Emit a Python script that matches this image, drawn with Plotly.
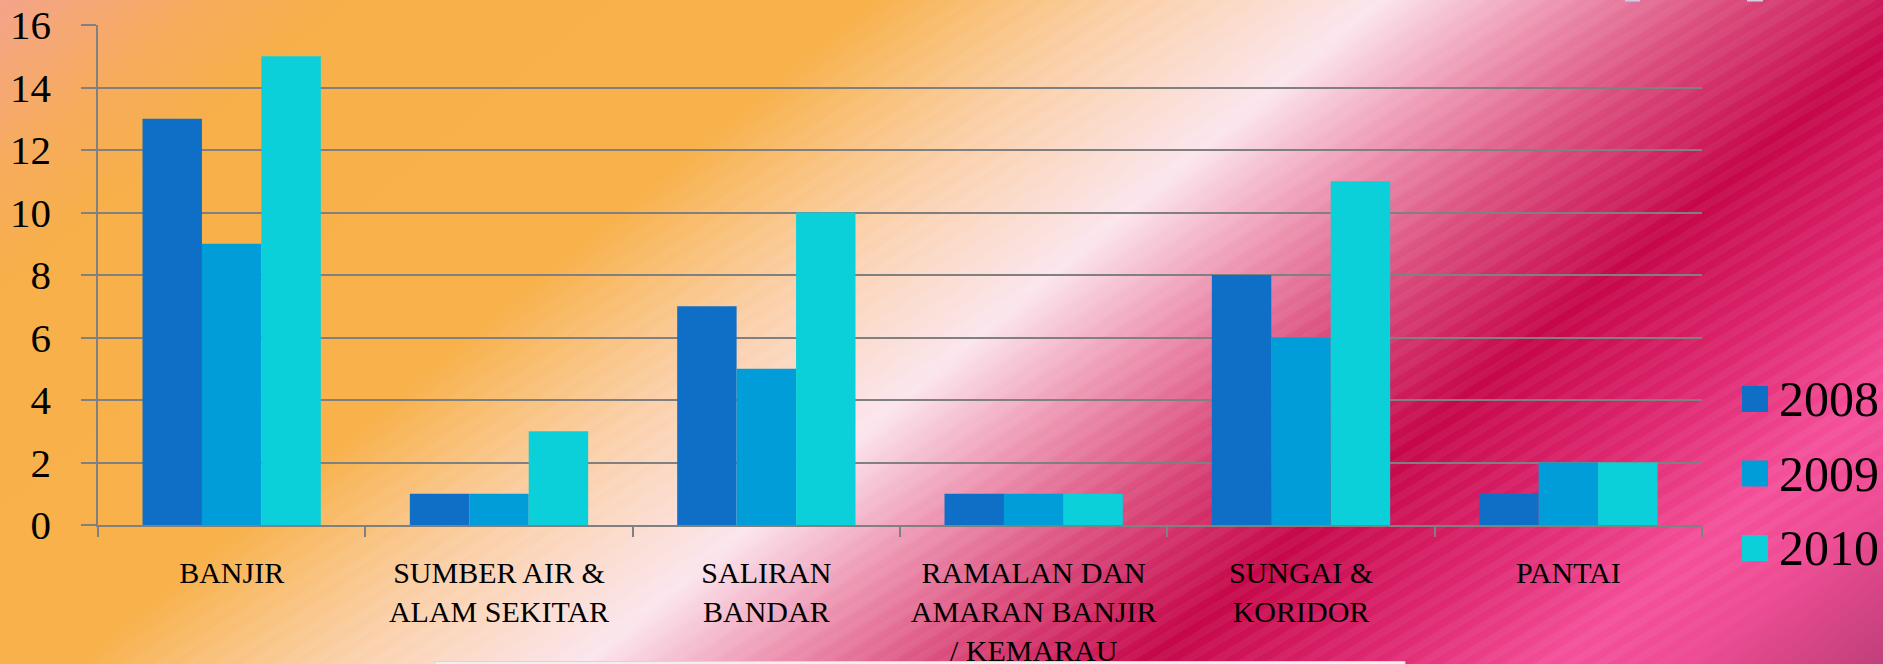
import numpy as np
import zlib, struct, base64
import plotly.graph_objects as go

# ---------------- data ----------------
categories = ["BANJIR", "SUMBER AIR &<br>ALAM SEKITAR", "SALIRAN<br>BANDAR",
              "RAMALAN DAN<br>AMARAN BANJIR<br>/ KEMARAU", "SUNGAI &<br>KORIDOR", "PANTAI"]
years = ["2008", "2009", "2010"]
v2008 = [13, 1, 7, 1, 8, 1]
v2009 = [9, 1, 5, 1, 6, 2]
v2010 = [15, 3, 10, 1, 11, 2]
y_ticks = [0, 2, 4, 6, 8, 10, 12, 14, 16]
colors = ["#0F6FC6", "#009DD9", "#0BD0D9"]

# ---------------- layout geometry ----------------
W, H = 1883, 664
L, R, T, B = 98, 181, 25, 139
PW, PH = W - L - R, H - T - B

def px_x(x):
    return (x - L) / PW

def px_y(y):
    return 1 - (y - T) / PH

# ---------------- background gradient image ----------------
def hexrgb(h):
    h = h.lstrip("#")
    return [int(h[i:i + 2], 16) for i in (0, 2, 4)]

stops = [(0, "#F4A48A"), (200, "#F7AC5E"), (350, "#F8B04A"), (870, "#F8B24C"),
         (1130, "#FBD0A8"), (1380, "#FCE6EE"), (1550, "#EE98B4"), (1720, "#DC5080"),
         (1940, "#C6084A"), (2160, "#DE2870"), (2350, "#F5509A"), (2480, "#EE4C94"),
         (2680, "#C0407A")]
sp = np.array([s for s, _ in stops], float)
sc = np.array([hexrgb(c) for _, c in stops], float)
Y, X = np.mgrid[0:H, 0:W].astype(float)
S = X + 1.2 * Y
img = np.stack([np.interp(S, sp, sc[:, k]) for k in range(3)], axis=-1)
S2 = X + 1.67 * Y
env = np.clip((S - 870) / 150, 0, 1) * np.clip((2550 - S) / 150, 0, 1)
stripe = (((S2 / 30.0) % 1.0) < 0.5).astype(float)
amt = 0.045 * env * stripe
img = img + (255 - img) * amt[..., None]
img = np.clip(img, 0, 255).astype(np.uint8)

def to_png(arr):
    h, w, _ = arr.shape
    a = arr.astype(np.int16)
    f = a.copy()
    f[:, 1:, :] = a[:, 1:, :] - a[:, :-1, :]
    f = (f % 256).astype(np.uint8).reshape(h, w * 3)
    raw = np.hstack([np.ones((h, 1), np.uint8), f]).tobytes()

    def chunk(t, d):
        return struct.pack(">I", len(d)) + t + d + struct.pack(">I", zlib.crc32(t + d) & 0xffffffff)

    return (b"\x89PNG\r\n\x1a\n" + chunk(b"IHDR", struct.pack(">IIBBBBB", w, h, 8, 2, 0, 0, 0))
            + chunk(b"IDAT", zlib.compress(raw, 9)) + chunk(b"IEND", b""))

src = "data:image/png;base64," + base64.b64encode(to_png(img)).decode()

# ---------------- figure ----------------
fig = go.Figure()
for name, vals, col in zip(years, [v2008, v2009, v2010], colors):
    fig.add_trace(go.Bar(x=categories, y=vals, name=name, marker_color=col,
                         marker_line_width=0, showlegend=False, hoverinfo="skip"))

FONT = "Liberation Serif"
grid = "#808080"

fig.update_layout(
    width=W, height=H, autosize=False,
    margin=dict(l=L, r=R, t=T, b=B, pad=0, autoexpand=False),
    paper_bgcolor="#F8B04A", plot_bgcolor="rgba(0,0,0,0)",
    barmode="group", bargap=0.333, bargroupgap=0,
    font=dict(family=FONT, color="black"),
    images=[dict(source=src, xref="paper", yref="paper",
                 x=-L / PW, y=1 + T / PH, sizex=W / PW, sizey=H / PH,
                 xanchor="left", yanchor="top", sizing="stretch", layer="below")],
)
fig.update_yaxes(range=[0, 16], tickvals=y_ticks, showgrid=True, gridcolor=grid, gridwidth=1.6,
                 showline=True, linecolor=grid, linewidth=1.6, ticks="outside", ticklen=15,
                 tickcolor=grid, tickwidth=1.6, zeroline=False, ticklabelstandoff=22,
                 automargin=False,
                 tickfont=dict(family=FONT, size=41, color="black"))
fig.update_xaxes(showline=True, linecolor=grid, linewidth=1.6, ticks="outside", ticklen=10,
                 tickson="boundaries", tickcolor=grid, tickwidth=1.6, showgrid=False,
                 ticklabelstandoff=20, tickangle=0, automargin=False,
                 tickfont=dict(family=FONT, size=30, color="black"))

# manual legend with large squares
shapes = []
annotations = []
for i, (name, col) in enumerate(zip(years, colors)):
    cy = 399 + 74.5 * i
    shapes.append(dict(type="rect", xref="paper", yref="paper",
                       x0=px_x(1742), x1=px_x(1768), y0=px_y(cy + 13), y1=px_y(cy - 13),
                       fillcolor=col, line=dict(width=0)))
    annotations.append(dict(text=name, xref="paper", yref="paper", x=px_x(1777), y=px_y(cy),
                            xanchor="left", yanchor="middle", showarrow=False,
                            font=dict(family=FONT, size=50, color="black")))

# slide elements peeking in at the edges
shapes.append(dict(type="rect", xref="paper", yref="paper", layer="above",
                   x0=px_x(435), x1=px_x(1405), y0=px_y(668), y1=px_y(661.5),
                   fillcolor="#F0F0F0", line=dict(color="#D6D6D6", width=1)))
for xa, xb in [(1625, 1640), (1747, 1763)]:
    shapes.append(dict(type="rect", xref="paper", yref="paper", layer="above",
                       x0=px_x(xa), x1=px_x(xb), y0=px_y(1.5), y1=px_y(-2),
                       fillcolor="#D4CCE2", line=dict(width=0)))

fig.update_layout(shapes=shapes, annotations=annotations)
fig.write_html("out.html", config={"displayModeBar": False},
               post_script="document.body.style.margin='0px';")
